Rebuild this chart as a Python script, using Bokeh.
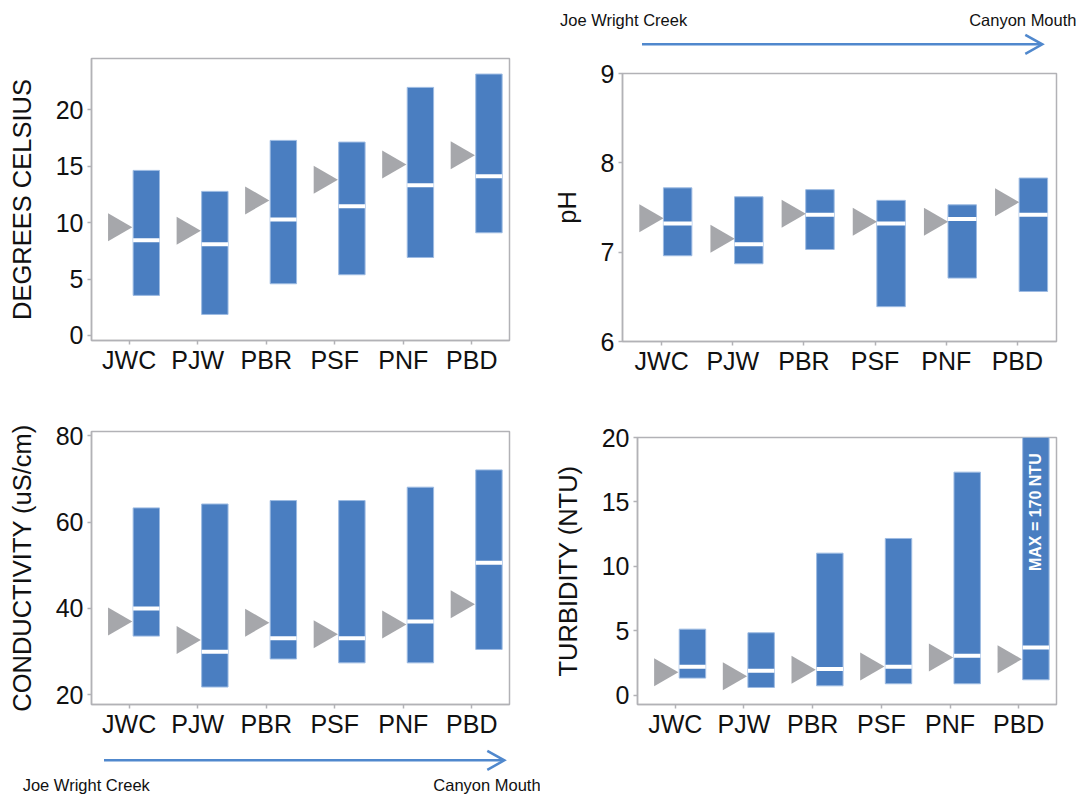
import numpy as np
from bokeh.plotting import figure
from bokeh.models import Range1d, FixedTicker, Div
from bokeh.layouts import column, row
from bokeh.embed import file_html
from bokeh.resources import INLINE
from bokeh.core.properties import value

# ---------------- data ----------------
sites = ["JWC", "PJW", "PBR", "PSF", "PNF", "PBD"]

temp_min = [3.55, 1.86, 4.58, 5.38, 6.91, 9.10]
temp_max = [14.63, 12.77, 17.29, 17.14, 21.99, 23.17]
temp_median = [8.44, 8.08, 10.28, 11.45, 13.31, 14.12]
temp_mean = [9.60, 9.28, 11.97, 13.80, 15.16, 15.98]

ph_min = [6.96, 6.87, 7.03, 6.39, 6.71, 6.56]
ph_max = [7.72, 7.62, 7.70, 7.58, 7.53, 7.83]
ph_median = [7.32, 7.09, 7.42, 7.32, 7.37, 7.42]
ph_mean = [7.38, 7.15, 7.43, 7.34, 7.34, 7.56]

cond_min = [33.6, 21.8, 28.3, 27.4, 27.4, 30.5]
cond_max = [63.3, 64.2, 65.0, 65.0, 68.1, 72.1]
cond_median = [40.0, 30.0, 33.1, 33.1, 37.0, 50.6]
cond_mean = [37.0, 32.7, 36.7, 34.0, 36.3, 41.0]

turb_min = [1.32, 0.59, 0.72, 0.88, 0.88, 1.19]
turb_max = [5.12, 4.84, 11.02, 12.16, 17.31, 170]
turb_median = [2.20, 1.90, 2.03, 2.20, 3.06, 3.69]
turb_mean = [1.78, 1.47, 1.96, 2.22, 2.92, 2.79]

flow_start = "Joe Wright Creek"
flow_end = "Canyon Mouth"

# ---------------- style ----------------
BLUE = "#4a7ec1"
EDGE = "#9dbbe2"
GRAY = "#a6a7ab"
FRAME = "#b2b2b6"
ARROW = "#5088cd"
INK = "#111111"
FONT = "Liberation Sans"
XR = (-0.55, 5.55)


def panel(ylabel, yr, yticks, mins, maxs, meds, means, fw, fh, bl, br, bt, bb,
          bar_dx=0.25, bar_w=0.385, tri_dx=-0.19):
    p = figure(frame_width=fw, frame_height=fh,
               min_border_left=bl, min_border_right=br,
               min_border_top=bt, min_border_bottom=bb,
               x_range=Range1d(*XR), y_range=Range1d(*yr),
               output_backend="svg", toolbar_location=None, tools="")
    x = np.arange(len(sites))
    p.vbar(x=x + bar_dx, width=bar_w, bottom=mins, top=maxs,
           fill_color=BLUE, line_color=EDGE, line_width=1)
    p.segment(x0=x + bar_dx - bar_w / 2, x1=x + bar_dx + bar_w / 2,
              y0=meds, y1=meds, line_color="white", line_width=4)
    p.scatter(x=x + tri_dx, y=means, marker="triangle", size=28,
              angle=-np.pi / 2, fill_color=GRAY, line_color=None)

    p.xgrid.visible = False
    p.ygrid.visible = False
    p.outline_line_color = FRAME
    p.outline_line_width = 1.5
    p.background_fill_color = "white"
    p.border_fill_color = "white"

    p.xaxis.ticker = FixedTicker(ticks=list(range(len(sites))))
    p.xaxis.major_label_overrides = {i: s for i, s in enumerate(sites)}
    p.yaxis.ticker = FixedTicker(ticks=yticks)
    for ax in p.axis:
        ax.axis_line_color = FRAME
        ax.axis_line_width = 1.5
        ax.major_tick_line_color = FRAME
        ax.major_tick_line_width = 1.5
        ax.major_tick_in = 0
        ax.major_tick_out = 4
        ax.minor_tick_line_color = None
        ax.major_label_text_font = FONT
        ax.major_label_text_font_size = "25px"
        ax.major_label_text_color = INK
    p.xaxis.major_label_standoff = 1
    p.yaxis.major_label_standoff = 4
    p.yaxis.axis_label = ylabel
    p.yaxis.axis_label_text_font = FONT
    p.yaxis.axis_label_text_font_size = "25.5px"
    p.yaxis.axis_label_text_font_style = "normal"
    p.yaxis.axis_label_text_color = INK
    p.yaxis.axis_label_standoff = 17
    return p


def flow_div(w, h, x0, x1, ay, t0x, t1x, ty, t1_anchor):
    """Upstream -> downstream flow arrow with its two end labels."""
    head_l, head_h = 17, 9.5
    svg = (
        f'<svg xmlns="http://www.w3.org/2000/svg" width="{w}" height="{h}" '
        f'style="display:block">'
        f'<line x1="{x0}" y1="{ay}" x2="{x1 - 1}" y2="{ay}" stroke="{ARROW}" '
        f'stroke-width="2.5"/>'
        f'<polyline points="{x1 - head_l},{ay - head_h} {x1},{ay} '
        f'{x1 - head_l},{ay + head_h}" fill="none" stroke="{ARROW}" '
        f'stroke-width="2.5"/>'
        f'<text x="{t0x}" y="{ty}" font-family="{FONT}" font-size="16.5px" '
        f'fill="{INK}">{flow_start}</text>'
        f'<text x="{t1x}" y="{ty}" text-anchor="{t1_anchor}" font-family="{FONT}" '
        f'font-size="16.5px" fill="{INK}">{flow_end}</text>'
        f'</svg>'
    )
    return Div(text=svg, width=w, height=h, margin=(0, 0, 0, 0),
               styles={"padding": "0px", "margin": "0px"})


# Temperature (top-left)
p1 = panel("DEGREES CELSIUS", (-0.45, 24.55), [0, 5, 10, 15, 20],
           temp_min, temp_max, temp_median, temp_mean,
           fw=418, fh=282, bl=91, br=31, bt=58, bb=70)

# pH (top-right, below the flow arrow)
d_top = flow_div(540, 60, 102, 502.3, 44.3, 20, 536.5, 26, "end")
p2 = panel("pH", (6, 9), [6, 7, 8, 9],
           ph_min, ph_max, ph_median, ph_mean,
           fw=434, fh=268, bl=82, br=24, bt=13, bb=69,
           bar_dx=0.225, bar_w=0.40, tri_dx=-0.2)

# Conductivity (bottom-left, above the flow arrow)
p3 = panel("CONDUCTIVITY (uS/cm)", (17.75, 81.0), [20, 40, 60, 80],
           cond_min, cond_max, cond_median, cond_mean,
           fw=418, fh=273, bl=91, br=31, bt=21, bb=41)
d_bot = flow_div(540, 50, 104, 504.3, 15.3, 22.7, 433.3, 45.5, "start")

# Turbidity (bottom-right)
p4 = panel("TURBIDITY (NTU)", (-0.73, 20.0), [0, 5, 10, 15, 20],
           turb_min, turb_max, turb_median, turb_mean,
           fw=419, fh=267, bl=97, br=24, bt=27, bb=91)
p4.text(x=[len(sites) - 1 + 0.25], y=[14.2],
        text=[f"MAX = {turb_max[-1]} NTU"], angle=np.pi / 2,
        text_align="center", text_baseline="middle",
        text_color="white", text_font=value(FONT),
        text_font_size="16px", text_font_style="bold")

layout = column(row(p1, column(d_top, p2)), row(column(p3, d_bot), p4))
open("out.html", "w").write(file_html(layout, INLINE))
